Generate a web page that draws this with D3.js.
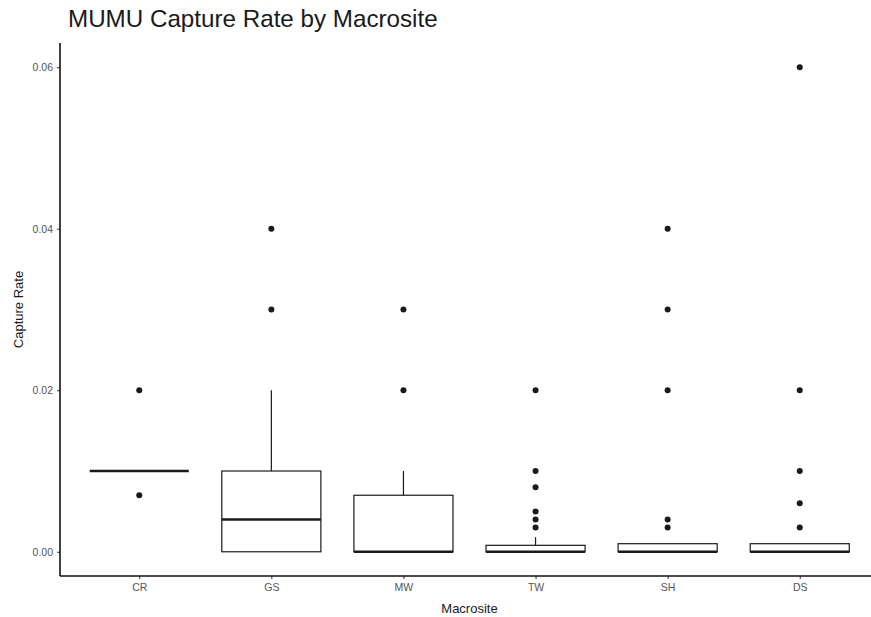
<!DOCTYPE html>
<html>
<head>
<meta charset="utf-8">
<script src="https://cdn.jsdelivr.net/npm/d3@7"></script>
<style>
  html, body { margin: 0; padding: 0; background: #fff; }
  svg { display: block; font-family: "Liberation Sans", Arial, Helvetica, sans-serif; }
</style>
</head>
<body>
<svg id="chart" width="871" height="617"></svg>
<script>
// Macrosites along the x axis
const sites = ["CR", "GS", "MW", "TW", "SH", "DS"];

// Box summary per macrosite (capture rate)
const q1 = [0.01, 0, 0, 0, 0, 0];
const medians = [0.01, 0.004, 0, 0, 0, 0];
const q3 = [0.01, 0.01, 0.007, 0.0008, 0.001, 0.001];
const whiskerLow = [0.01, 0, 0, 0, 0, 0];
const whiskerHigh = [0.01, 0.02, 0.01, 0.0018, 0.001, 0.001];

// Points beyond the whiskers
const outliers = [
  [0.02, 0.007],
  [0.04, 0.03],
  [0.03, 0.02],
  [0.02, 0.01, 0.008, 0.005, 0.004, 0.003],
  [0.04, 0.03, 0.02, 0.004, 0.003],
  [0.06, 0.02, 0.01, 0.006, 0.003]
];

const yTicks = [0, 0.02, 0.04, 0.06];

const svg = d3.select("#chart");
const panel = { left: 60, right: 879, top: 43, bottom: 576 };

const x = d3.scalePoint()
  .domain(sites)
  .range([panel.left, panel.right])
  .padding(0.6);

const y = d3.scaleLinear()
  .domain([-0.003, 0.063])
  .range([panel.bottom, panel.top]);

const boxW = x.step() * 0.75;
const ink = "#1a1a1a";

const rows = sites.map((s, i) => ({
  site: s, q1: q1[i], med: medians[i], q3: q3[i],
  lo: whiskerLow[i], hi: whiskerHigh[i], out: outliers[i]
}));

const g = svg.append("g");

// whiskers
g.selectAll(".wh-up").data(rows).join("line")
  .attr("x1", d => x(d.site)).attr("x2", d => x(d.site))
  .attr("y1", d => y(d.q3)).attr("y2", d => y(d.hi))
  .attr("stroke", ink).attr("stroke-width", 1.2);
g.selectAll(".wh-lo").data(rows).join("line")
  .attr("x1", d => x(d.site)).attr("x2", d => x(d.site))
  .attr("y1", d => y(d.q1)).attr("y2", d => y(d.lo))
  .attr("stroke", ink).attr("stroke-width", 1.2);

// boxes
g.selectAll(".box").data(rows).join("rect")
  .attr("x", d => x(d.site) - boxW / 2)
  .attr("width", boxW)
  .attr("y", d => y(d.q3))
  .attr("height", d => y(d.q1) - y(d.q3))
  .attr("fill", "#fff")
  .attr("stroke", ink).attr("stroke-width", 1.2);

// medians
g.selectAll(".med").data(rows).join("line")
  .attr("x1", d => x(d.site) - boxW / 2).attr("x2", d => x(d.site) + boxW / 2)
  .attr("y1", d => y(d.med)).attr("y2", d => y(d.med))
  .attr("stroke", ink).attr("stroke-width", 2.5);

// outliers
rows.forEach(d => {
  g.selectAll(null).data(d.out).join("circle")
    .attr("cx", x(d.site)).attr("cy", v => y(v))
    .attr("r", 3).attr("fill", ink);
});

// axes
const yAxis = d3.axisLeft(y).tickValues(yTicks).tickFormat(d3.format(".2f")).tickSize(3).tickPadding(4);
const xAxis = d3.axisBottom(x).tickSize(3).tickPadding(5);

const ya = svg.append("g").attr("transform", `translate(${panel.left},0)`).call(yAxis);
const xa = svg.append("g").attr("transform", `translate(0,${panel.bottom})`).call(xAxis);

[ya, xa].forEach(a => {
  a.select(".domain").remove();
  a.selectAll(".tick line").attr("stroke", "#333").attr("stroke-width", 1);
  a.selectAll(".tick text").attr("fill", "#555").style("font-size", "10.5px");
});

// axis lines
svg.append("line")
  .attr("x1", panel.left).attr("x2", panel.left)
  .attr("y1", panel.top).attr("y2", panel.bottom)
  .attr("stroke", "#111").attr("stroke-width", 1.6);
svg.append("line")
  .attr("x1", panel.left).attr("x2", panel.right)
  .attr("y1", panel.bottom).attr("y2", panel.bottom)
  .attr("stroke", "#111").attr("stroke-width", 1.6);

// titles
svg.append("text")
  .attr("x", 68).attr("y", 27)
  .attr("fill", "#1a1a1a")
  .style("font-size", "24.2px")
  .text("MUMU Capture Rate by Macrosite");

svg.append("text")
  .attr("x", (panel.left + panel.right) / 2).attr("y", 612.5)
  .attr("text-anchor", "middle")
  .attr("fill", "#1a1a1a")
  .style("font-size", "13px")
  .text("Macrosite");

svg.append("text")
  .attr("transform", `translate(23,${(panel.top + panel.bottom) / 2}) rotate(-90)`)
  .attr("text-anchor", "middle")
  .attr("fill", "#1a1a1a")
  .style("font-size", "13px")
  .text("Capture Rate");
</script>
</body>
</html>
